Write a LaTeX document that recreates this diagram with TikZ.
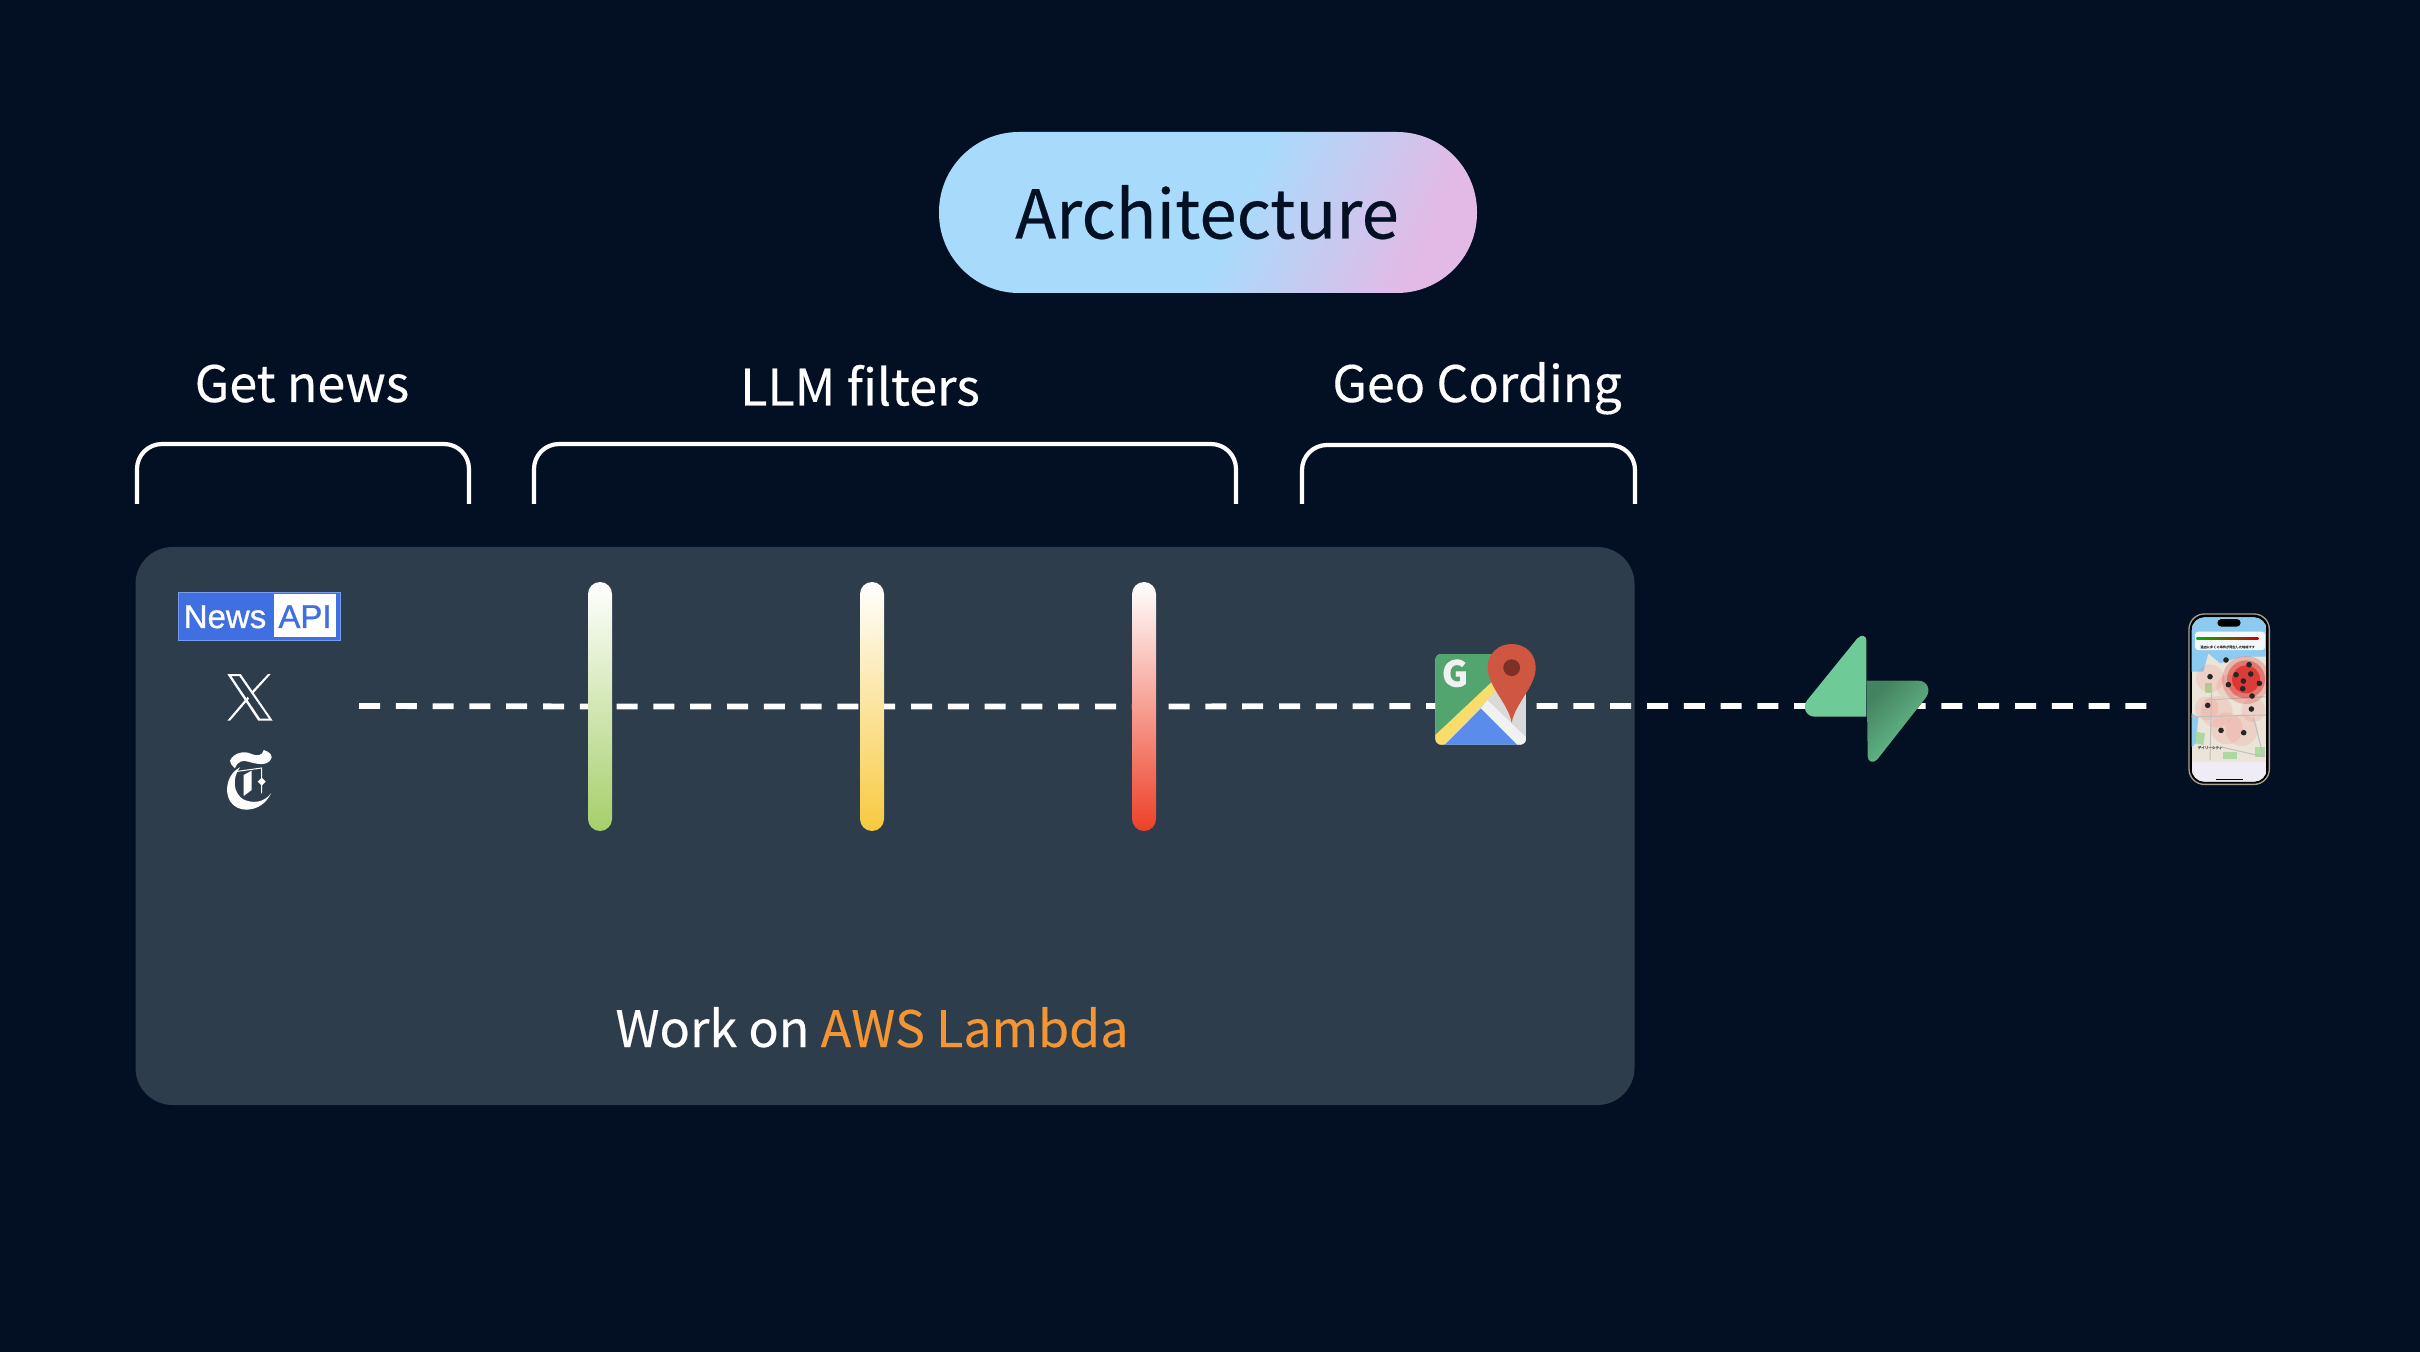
\documentclass[tikz,border=0pt]{standalone}
\usepackage{fontspec}
\setmainfont[RawFeature={embolden=0.3}]{Noto Sans CJK JP}
\newfontfamily\logofont[RawFeature={embolden=0.8}]{Liberation Sans}
\usetikzlibrary{positioning,backgrounds}
\definecolor{bgdark}{HTML}{030F22}
\definecolor{panelgray}{HTML}{2D3D4C}
\definecolor{pillblue}{HTML}{A8DBFB}
\definecolor{pillpink}{HTML}{E3BAE6}
\definecolor{awsorange}{HTML}{F29532}
\definecolor{newsblue}{HTML}{3F6FE0}
\definecolor{supagreen}{HTML}{6ECB98}
\definecolor{supadark}{HTML}{44835F}
\definecolor{supamid}{HTML}{65BC8D}
\definecolor{barlime}{HTML}{A6CF6A}
\definecolor{baramber}{HTML}{F8C93E}
\definecolor{barred}{HTML}{EE4028}
\definecolor{mapgreen}{HTML}{52A56F}
\definecolor{mapyellow}{HTML}{F9DD6B}
\definecolor{mapblue}{HTML}{5A8DEB}
\definecolor{mapwhite}{HTML}{F1F1F1}
\definecolor{mapgray}{HTML}{D9D9D9}
\definecolor{pinred}{HTML}{CF5641}
\definecolor{pindark}{HTML}{7E2F27}
\definecolor{phoneedge}{HTML}{AAA591}
\definecolor{landbeige}{HTML}{EAE5D8}
\definecolor{seablue}{HTML}{8CCBEF}
\definecolor{parkgreen}{HTML}{AFD7A0}
\definecolor{tabbar}{HTML}{EFECF6}
\pgfdeclarehorizontalshading{pillgrad}{100bp}{color(0bp)=(pillblue); color(53bp)=(pillblue); color(75bp)=(pillpink); color(100bp)=(pillpink)}
\begin{document}
\begin{tikzpicture}[x=0.5pt,y=-0.5pt]
	\tikzstyle{heading}=[anchor=base,inner sep=0pt,text=white,font=\fontsize{25.1}{30}\selectfont]
	\tikzstyle{bracket}=[draw=white,line width=2.1pt,rounded corners=12.5pt]
	\tikzstyle{filterbar}=[rectangle,rounded corners=6pt,minimum width=12pt,minimum height=124.5pt,inner sep=0pt,top color=white]
	\tikzstyle{flowline}=[draw=white,line width=2.9pt,dash pattern=on 10.5pt off 7.9pt]

	\begin{scope}[on background layer]
		\fill[bgdark] (0,0) rectangle (2420,1352);
		\node[rectangle,rounded corners=18.5pt,fill=panelgray,minimum width=749.5pt,minimum height=279pt,inner sep=0pt] (lambda) at (885,826) {};
	\end{scope}

	\node[rectangle,rounded corners=40pt,shading=pillgrad,shading angle=-25,minimum width=269pt,minimum height=80.5pt,inner sep=0pt] (archpill) at (1208,212.5) {};
	\node[anchor=base,inner sep=0pt,text=bgdark,font=\fontsize{33.6}{40}\selectfont] (archtext) at (1207,238.5) {Architecture};

	\node[heading] (getnews) at (302,402) {Get news};
	\node[heading] (llm) at (860,405.5) {LLM filters};
	\node[heading] (geo) at (1477,402) {Geo Cording};
	\node[heading] (worktext) at (872,1047) {Work on \textcolor{awsorange}{AWS Lambda}};

	\draw[bracket] (137,504) -- (137,444) -- (469,444) -- (469,504);
	\draw[bracket] (534,504) -- (534,444) -- (1236,444) -- (1236,504);
	\draw[bracket] (1302,504) -- (1302,445) -- (1635,445) -- (1635,504);

	\coordinate (flowstart) at (359,706);
	\coordinate (gmaps) at (1480,706);
	\coordinate (supabase) at (1868,706);
	\coordinate (flowend) at (2147,706);
	\node[filterbar,bottom color=barlime] (bar1) at (600,706.5) {};
	\node[filterbar,bottom color=baramber] (bar2) at (872,706.5) {};
	\node[filterbar,bottom color=barred] (bar3) at (1144,706.5) {};

	\begin{scope}[on background layer]
		\draw[flowline] (flowstart) -- (bar1.center) -- (bar2.center) -- (bar3.center) -- (gmaps) -- (supabase) -- (flowend);
	\end{scope}

	% sources
	\node[rectangle,draw={rgb,255:red,120;green,155;blue,235},line width=0.4pt,fill=newsblue,minimum width=81pt,minimum height=24pt,inner sep=0pt] (newsapi) at (259,616) {};
	\node[rectangle,fill=white,minimum width=31pt,minimum height=21.5pt,inner sep=0pt] (apibox) at (305,615.5) {};
	\node[anchor=base,inner sep=0pt,text=white,font=\logofont\fontsize{16.5}{20}\selectfont] (newstext) at (225,628) {News};
	\node[anchor=base,inner sep=0pt,text=newsblue,font=\logofont\fontsize{16.5}{20}\selectfont] (apitext) at (305,628) {API};

	\begin{scope}[shift={(150,560)},x=0.1667pt,y=-0.1667pt]
		\fill[white,even odd rule] (232,342) -- (272,342) -- (368,482) -- (325,482) -- cycle (244,348) -- (268,348) -- (357,476) -- (330,476) -- cycle;
		\fill[white] (354,342) -- (362,342) -- (307,403) -- (303,397) -- cycle;
		\fill[white] (293,410) -- (297,416) -- (240,482) -- (232,482) -- cycle;
	\end{scope}

	\begin{scope}[shift={(215,740)},x=0.1667pt,y=-0.1667pt]
		\fill[white] (45,62) .. controls (55,40) and (85,30) .. (110,42) .. controls (125,48) and (140,50) .. (146,30) .. controls (165,35) and (178,50) .. (165,62) .. controls (150,78) and (125,72) .. (100,65) .. controls (85,60) and (68,62) .. (60,85) .. controls (50,75) and (45,70) .. (45,62) -- cycle;
		\fill[white] (75,82) .. controls (30,105) and (25,170) .. (55,195) .. controls (85,222) and (145,210) .. (168,160) .. controls (145,190) and (110,190) .. (85,178) .. controls (55,160) and (50,115) .. (75,82) -- cycle;
		\fill[white] (86,105) -- (110,92) -- (110,150) -- (86,168) -- cycle;
		\draw[white,line width=0.5pt] (60,95) -- (140,84) -- (140,160);
		\fill[white] (140,113) -- (152,125) -- (140,137) -- (128,125) -- cycle;
	\end{scope}

	% google maps
	\begin{scope}[shift={(1400,620)},x=0.1667pt,y=-0.1667pt]
		\begin{scope}
			\clip[rounded corners=3pt] (106,102) rectangle (378,374);
			\fill[mapgray] (106,102) rectangle (378,374);
			\fill[mapgreen] (106,102) -- (378,102) -- (106,345) -- cycle;
			\fill[mapyellow] (106,345) -- (275,186) -- (292,208) -- (130,374) -- (106,374) -- cycle;
			\fill[mapblue] (135,374) -- (243,265) -- (352,374) -- cycle;
			\fill[mapwhite] (243,265) -- (262,240) -- (378,352) -- (378,374) -- (352,374) -- cycle;
		\end{scope}
		\node[anchor=base,inner sep=0pt,text=mapwhite,font=\bfseries\fontsize{18}{20}\selectfont] (gletter) at (165,200) {G};
		\fill[pinred] (335,308) .. controls (325,250) and (263,200) .. (263,143) .. controls (263,100) and (295,72) .. (335,72) .. controls (375,72) and (407,100) .. (407,143) .. controls (407,200) and (345,250) .. (335,308) -- cycle;
		\fill[pindark] (335,143) circle [radius=4.2pt];
	\end{scope}

	% supabase
	\begin{scope}[shift={(1780,620)},x=0.1667pt,y=-0.1667pt]
		\fill[top color=supadark,middle color=supamid,bottom color=supagreen,shading angle=45] (260,182) -- (415,182) .. controls (440,182) and (455,208) .. (438,232) -- (292,418) .. controls (280,432) and (263,425) .. (263,410) -- cycle;
		\fill[supagreen] (259,60) .. controls (259,48) and (245,42) .. (232,55) -- (82,240) .. controls (65,262) and (78,290) .. (105,290) -- (259,290) -- cycle;
	\end{scope}

	% phone
	\begin{scope}[shift={(2170,600)},x=0.1667pt,y=-0.1667pt]
		\fill[phoneedge,rounded corners=8pt] (55,40) rectangle (300,555);
		\fill[black,rounded corners=7.5pt] (59,44) rectangle (296,551);
		\begin{scope}
			\clip[rounded corners=6.5pt] (65,52) rectangle (290,545);
			\fill[landbeige] (65,52) rectangle (290,545);
			\fill[seablue] (65,52) -- (290,52) -- (290,170) -- (215,170) -- (150,190) -- (115,160) -- (100,215) -- (65,215) -- cycle;
			\fill[seablue] (65,340) -- (85,350) -- (78,430) -- (65,440) -- cycle;
			\fill[parkgreen] (78,395) -- (105,400) -- (100,435) -- (78,430) -- cycle;
			\fill[parkgreen] (105,250) rectangle (125,280);
			\fill[parkgreen] (160,455) rectangle (200,478);
			\fill[parkgreen] (255,440) rectangle (285,470);
			\foreach \px/\py/\pr in {120/235/7,140/335/8,110/325/6,170/385/8,215/390/8,250/330/6,175/260/6}
				\fill[red!70!white,opacity=0.12] (\px,\py) circle [radius=\pr pt];
			\draw[black!25,line width=0.5pt] (105,300) -- (290,290) (125,260) -- (120,480) (65,350) -- (290,345) (150,440) -- (280,470) (250,350) -- (280,470);
			\fill[red!85!black,opacity=0.2] (228,240) circle [radius=12pt];
			\fill[red!85!black,opacity=0.35] (228,238) circle [radius=9.5pt];
			\fill[red!85!black,opacity=0.5] (228,238) circle [radius=7pt];
			\fill[tabbar] (65,487) rectangle (290,545);
			\fill[white,opacity=0.9,rounded corners=1.5pt] (75,95) rectangle (285,150);
		\end{scope}
		\shade[left color=green!70!black,right color=red!80!black] (80,113) rectangle (265,117);
		\fill[black,rounded corners=2pt] (142,57) rectangle (212,80);
		\fill[black] (138,537) rectangle (218,541);
		\foreach \px/\py in {168/180,237/194,120/230,198/224,242/222,220/243,175/254,268/250,218/266,246/288,113/316,244/327,153/391,221/398}
			\fill[black!85] (\px,\py) circle [radius=1.4pt];
		\node[inner sep=0pt,text=black!70,font=\fontsize{1.6}{2}\selectfont] (cardtext) at (173,141) {過去に多くの事件が発生した地域です};
		\node[inner sep=0pt,text=black!70,font=\fontsize{1.8}{2}\selectfont] (citytext) at (120,443) {デイリーシティ};
	\end{scope}
\end{tikzpicture}
\end{document}
